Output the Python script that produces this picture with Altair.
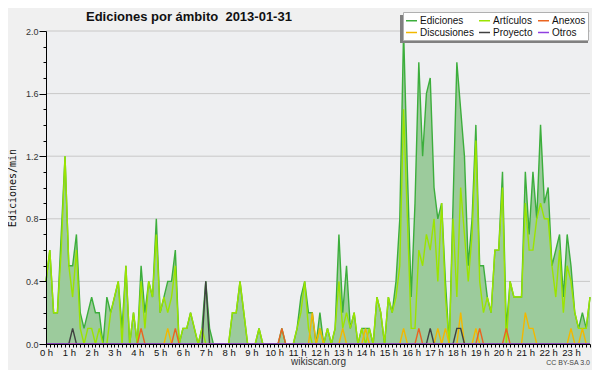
import altair as alt
import pandas as pd

# Edits per minute, one value every 10 minutes (6 per hour, 0 h .. 23 h 50)
ediciones = [
    0.4, 0.6, 0.2, 0.2, 0.7, 1.2,   # 0 h
    0.5, 0.5, 0.7, 0.2, 0.1, 0.2,   # 1 h
    0.3, 0.2, 0.2, 0.0, 0.3, 0.2,   # 2 h
    0.3, 0.4, 0.1, 0.5, 0.0, 0.2,   # 3 h
    0.0, 0.5, 0.2, 0.4, 0.3, 0.8,   # 4 h
    0.2, 0.3, 0.4, 0.4, 0.6, 0.0,   # 5 h
    0.1, 0.1, 0.2, 0.1, 0.0, 0.1,   # 6 h
    0.4, 0.1, 0.0, 0.0, 0.0, 0.0,   # 7 h
    0.0, 0.2, 0.2, 0.4, 0.2, 0.0,   # 8 h
    0.0, 0.0, 0.1, 0.0, 0.0, 0.0,   # 9 h
    0.0, 0.0, 0.1, 0.0, 0.0, 0.0,   # 10 h
    0.1, 0.3, 0.4, 0.2, 0.2, 0.0,   # 11 h
    0.2, 0.0, 0.1, 0.0, 0.1, 0.7,   # 12 h
    0.2, 0.5, 0.1, 0.2, 0.0, 0.1,   # 13 h
    0.1, 0.1, 0.0, 0.3, 0.2, 0.0,   # 14 h
    0.3, 0.2, 0.4, 0.8, 2.0, 1.1,   # 15 h
    0.3, 0.9, 1.8, 1.2, 1.6, 1.7,   # 16 h
    1.0, 0.8, 0.9, 0.4, 0.0, 0.9,   # 17 h
    1.8, 1.5, 1.2, 0.5, 0.8, 1.4,   # 18 h
    0.5, 0.5, 0.3, 0.2, 0.6, 0.6,   # 19 h
    1.1, 0.1, 0.4, 0.3, 0.3, 0.3,   # 20 h
    1.1, 0.7, 1.1, 0.8, 1.4, 0.9,   # 21 h
    1.0, 0.5, 0.6, 0.7, 0.3, 0.7,   # 22 h
    0.5, 0.2, 0.1, 0.2, 0.1, 0.3,   # 23 h
]

articulos = [
    0.4, 0.6, 0.2, 0.2, 0.6, 1.2,
    0.5, 0.3, 0.6, 0.1, 0.0, 0.1,
    0.1, 0.0, 0.1, 0.0, 0.0, 0.2,
    0.3, 0.4, 0.0, 0.5, 0.0, 0.2,
    0.0, 0.4, 0.1, 0.4, 0.3, 0.7,
    0.2, 0.3, 0.2, 0.3, 0.5, 0.0,
    0.1, 0.1, 0.2, 0.1, 0.0, 0.1,
    0.0, 0.0, 0.0, 0.0, 0.0, 0.0,
    0.0, 0.2, 0.2, 0.4, 0.2, 0.0,
    0.0, 0.0, 0.1, 0.0, 0.0, 0.0,
    0.0, 0.0, 0.0, 0.0, 0.0, 0.0,
    0.1, 0.2, 0.4, 0.1, 0.0, 0.0,
    0.1, 0.0, 0.1, 0.0, 0.1, 0.4,
    0.1, 0.2, 0.1, 0.2, 0.0, 0.1,
    0.0, 0.1, 0.0, 0.3, 0.2, 0.0,
    0.3, 0.2, 0.3, 0.5, 1.5, 0.8,
    0.1, 0.1, 0.6, 0.5, 0.7, 0.6,
    0.8, 0.4, 0.9, 0.3, 0.0, 0.8,
    0.3, 1.0, 0.7, 0.4, 0.7, 1.3,
    0.4, 0.2, 0.3, 0.2, 0.6, 0.6,
    1.0, 0.0, 0.4, 0.3, 0.3, 0.3,
    0.9, 0.6, 0.6, 0.8, 0.9, 0.8,
    0.8, 0.5, 0.3, 0.6, 0.2, 0.5,
    0.4, 0.2, 0.1, 0.1, 0.1, 0.3,
]

discusiones = [
    0, 0, 0, 0, 0, 0,
    0, 0, 0, 0, 0, 0,
    0, 0, 0, 0, 0, 0,
    0, 0, 0, 0, 0, 0,
    0, 0, 0, 0, 0, 0,
    0, 0, 0.1, 0, 0, 0,
    0, 0, 0, 0, 0, 0,
    0, 0, 0, 0, 0, 0,
    0, 0, 0, 0, 0, 0,
    0, 0, 0, 0, 0, 0,
    0, 0, 0, 0, 0, 0,
    0, 0, 0, 0, 0.2, 0,
    0.1, 0, 0, 0, 0, 0,
    0.1, 0, 0, 0, 0, 0,
    0.1, 0, 0, 0, 0, 0,
    0, 0, 0, 0, 0.1, 0,
    0, 0, 0, 0, 0, 0,
    0, 0.1, 0, 0.1, 0, 0,
    0, 0.2, 0, 0, 0, 0.1,
    0, 0, 0, 0, 0, 0,
    0, 0, 0, 0, 0, 0,
    0.2, 0.1, 0.1, 0, 0, 0,
    0, 0, 0, 0, 0, 0,
    0.1, 0, 0, 0.1, 0, 0,
]

anexos = [
    0, 0, 0, 0, 0, 0,
    0, 0, 0, 0, 0, 0,
    0, 0, 0, 0, 0, 0,
    0, 0, 0, 0, 0, 0,
    0, 0.1, 0, 0, 0, 0,
    0, 0, 0, 0, 0.1, 0,
    0, 0, 0, 0, 0, 0,
    0, 0, 0, 0, 0, 0,
    0, 0, 0, 0, 0, 0,
    0, 0, 0, 0, 0, 0,
    0, 0, 0.1, 0, 0, 0,
    0, 0, 0, 0, 0, 0,
    0, 0, 0, 0, 0, 0,
    0, 0, 0, 0, 0, 0,
    0, 0, 0, 0, 0, 0,
    0, 0, 0, 0, 0, 0,
    0, 0, 0.1, 0, 0, 0,
    0, 0, 0, 0, 0, 0,
    0, 0, 0, 0, 0, 0,
    0.1, 0, 0, 0, 0, 0,
    0, 0.1, 0, 0, 0, 0,
    0, 0, 0, 0, 0, 0,
    0, 0, 0, 0, 0, 0,
    0, 0, 0, 0, 0, 0,
]

proyecto = [
    0, 0, 0, 0, 0, 0,
    0, 0.1, 0, 0, 0, 0,
    0, 0, 0, 0, 0, 0,
    0, 0, 0, 0, 0, 0,
    0, 0, 0, 0, 0, 0,
    0, 0, 0, 0, 0, 0,
    0, 0, 0, 0, 0, 0,
    0.4, 0, 0, 0, 0, 0,
    0, 0, 0, 0, 0, 0,
    0, 0, 0, 0, 0, 0,
    0, 0, 0, 0, 0, 0,
    0, 0, 0, 0, 0, 0,
    0, 0, 0, 0, 0, 0,
    0, 0, 0, 0, 0, 0,
    0, 0, 0, 0, 0, 0,
    0, 0, 0, 0, 0, 0,
    0, 0, 0, 0, 0, 0.1,
    0, 0, 0, 0, 0, 0,
    0.1, 0.1, 0, 0, 0, 0,
    0, 0, 0, 0, 0, 0,
    0, 0, 0, 0, 0, 0,
    0, 0, 0, 0, 0, 0,
    0, 0, 0, 0, 0, 0,
    0, 0, 0, 0, 0, 0,
]

otros = [0] * 144

series = ["Ediciones", "Artículos", "Anexos", "Discusiones", "Proyecto", "Otros"]
colors = ["#3cae3c", "#9be400", "#ea6420", "#f2b800", "#404040", "#9040e0"]
draw_order = ["Ediciones", "Artículos", "Discusiones", "Anexos", "Proyecto", "Otros"]
values = {
    "Ediciones": ediciones, "Artículos": articulos, "Anexos": anexos,
    "Discusiones": discusiones, "Proyecto": proyecto, "Otros": otros,
}

rows = [{"h": i / 6, "v": v, "s": s} for s in series for i, v in enumerate(values[s])]
df = pd.DataFrame(rows)

grid_values = [0.4, 0.8, 1.2, 1.6, 2.0]
x_ticks = [k / 6 for k in range(144)]
y_ticks = [round(k * 0.1, 1) for k in range(21)]

W, H = 544, 313
FONT = "Liberation Sans"

xscale = alt.Scale(domain=[0, 143 / 6], nice=False, zero=False)
yscale = alt.Scale(domain=[0, 2], nice=False)

x_enc = alt.X(
    "h:Q", scale=xscale,
    axis=alt.Axis(
        values=x_ticks,
        labelExpr="abs(datum.value - round(datum.value)) < 0.01 ? round(datum.value) + ' h' : ''",
        labelOverlap=False, labelFlush=False, labelFont=FONT, labelFontSize=9.5,
        labelColor="#111", labelPadding=0, tickSize=3, tickColor="#000",
        domainColor="#000", grid=False, zindex=1,
        title="wikiscan.org", titleFont=FONT, titleFontSize=10,
        titleFontWeight="normal", titleColor="#333", titlePadding=0,
    ),
)
y_enc = alt.Y(
    "v:Q", scale=yscale,
    axis=alt.Axis(
        values=y_ticks,
        labelExpr="round(datum.value * 10) % 4 == 0 ? format(datum.value, '.1f') : ''",
        labelOverlap=False, labelFlush=False, labelFont=FONT, labelFontSize=9,
        labelColor="#333", labelPadding=1,
        tickSize={"condition": {"test": "round(datum.value * 10) % 4 == 0", "value": 7}, "value": 3},
        tickColor="#000", domainColor="#000", grid=False, zindex=1,
        title="Ediciones/min", titleFont="DejaVu Sans Mono", titleFontSize=10,
        titleFontWeight="normal", titleColor="#111", titlePadding=8,
    ),
)
color_enc = alt.Color(
    "s:N",
    scale=alt.Scale(domain=series, range=colors),
    legend=alt.Legend(
        title=None, orient="none", legendX=357, legendY=-19, columns=3,
        direction="horizontal",
        symbolType="stroke", symbolStrokeWidth=1.5, symbolSize=121,
        labelFont=FONT, labelFontSize=10, labelColor="#111", labelOffset=2,
        fillColor="#ffffff", strokeColor="#b0b0b0", padding=2,
        columnPadding=2, rowPadding=0,
    ),
)

base = alt.Chart(df)

grid = alt.Chart(pd.DataFrame({"v": grid_values})).mark_rule(
    color="#c8c8c8", strokeWidth=1
).encode(y=y_enc)

area = base.transform_filter(alt.datum.s == "Ediciones").mark_area(
    color="#9ccb9c", interpolate="linear"
).encode(x=x_enc, y=y_enc)

lines = [
    base.transform_filter(alt.datum.s == s).mark_line(strokeWidth=1.4, interpolate="linear")
    .encode(x=x_enc, y=y_enc, color=color_enc)
    for s in draw_order
]

one = alt.Data(values=[{}])
shadow = alt.Chart(one).mark_rect(color="#808080").encode(
    x=alt.value(354), x2=alt.value(542), y=alt.value(-16), y2=alt.value(12)
)
title = alt.Chart(one).mark_text(
    text="Ediciones por ámbito \u00a02013-01-31", font=FONT, fontSize=13,
    fontWeight="bold", align="left", baseline="alphabetic", color="#111"
).encode(x=alt.value(40), y=alt.value(-10))
license_txt = alt.Chart(one).mark_text(
    text="CC BY-SA 3.0", font=FONT, fontSize=7, align="right",
    baseline="alphabetic", color="#444"
).encode(x=alt.value(W), y=alt.value(H + 21))

chart = alt.layer(grid, area, *lines, shadow, title, license_txt).properties(
    width=W, height=H,
    autosize=alt.AutoSizeParams(type="none"),
    padding={"left": 38, "top": 23, "right": 2, "bottom": 26},
    background="#f0f0f0",
).configure_view(stroke=None, fill="#eeeff1")

chart.save("out.html", embed_options={"renderer": "svg", "actions": False})
